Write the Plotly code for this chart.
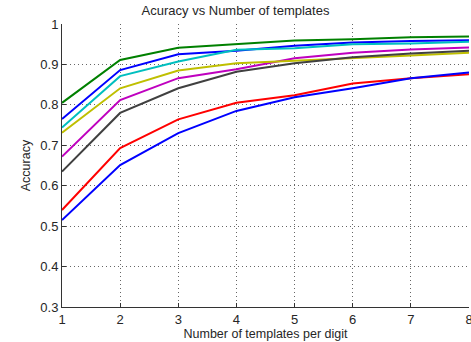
import plotly.graph_objects as go

# number of templates per digit
n_templates = [1, 2, 3, 4, 5, 6, 7, 8]

# accuracy per run (MATLAB default colour order)
acc_blue_a = [0.765, 0.886, 0.925, 0.934, 0.946, 0.954, 0.958, 0.960]
acc_green = [0.805, 0.911, 0.941, 0.950, 0.959, 0.962, 0.967, 0.969]
acc_red = [0.540, 0.693, 0.764, 0.805, 0.824, 0.853, 0.866, 0.876]
acc_cyan = [0.744, 0.871, 0.907, 0.936, 0.940, 0.950, 0.952, 0.956]
acc_magenta = [0.672, 0.812, 0.866, 0.888, 0.915, 0.929, 0.937, 0.942]
acc_yellow = [0.731, 0.841, 0.885, 0.903, 0.909, 0.915, 0.922, 0.929]
acc_gray = [0.635, 0.780, 0.841, 0.882, 0.903, 0.918, 0.927, 0.934]
acc_blue_b = [0.515, 0.651, 0.730, 0.785, 0.819, 0.841, 0.866, 0.880]

series = [
    (acc_blue_a, "#0000ff"),
    (acc_green, "#008000"),
    (acc_red, "#ff0000"),
    (acc_cyan, "#00bfbf"),
    (acc_magenta, "#bf00bf"),
    (acc_yellow, "#bfbf00"),
    (acc_gray, "#404040"),
    (acc_blue_b, "#0000ff"),
]

fig = go.Figure()
for ys, col in series:
    fig.add_trace(go.Scatter(x=n_templates, y=ys, mode="lines",
                             line=dict(color=col, width=2), showlegend=False))

txt = "#262626"
font = dict(family="Liberation Sans, Arial", size=13, color=txt)
fig.update_layout(
    width=471, height=342,
    margin=dict(l=62, r=2, t=24, b=35, autoexpand=False),
    paper_bgcolor="white", plot_bgcolor="white",
    font=font,
    title=dict(text="Acuracy vs Number of templates", x=0.5, xanchor="center",
               y=1 - 10 / 342, yanchor="middle", font=dict(size=13, color=txt)),
)
fig.update_xaxes(
    range=[1, 8], tickvals=n_templates, ticklabeloverflow="allow",
    showgrid=True, gridcolor="#666666", griddash="1px,3px", gridwidth=1,
    showline=True, linecolor="#333333", linewidth=1,
    ticks="inside", ticklen=4, tickcolor="#333333",
    zeroline=False, automargin=False,
    title=dict(text="Number of templates per digit", standoff=1, font=dict(size=12.5)),
)
fig.update_yaxes(
    range=[0.3, 1.0], tickvals=[0.3, 0.4, 0.5, 0.6, 0.7, 0.8, 0.9, 1.0],
    ticktext=["0.3", "0.4", "0.5", "0.6", "0.7", "0.8", "0.9", "1"],
    showgrid=True, gridcolor="#666666", griddash="1px,3px", gridwidth=1,
    showline=True, linecolor="#333333", linewidth=1,
    ticks="inside", ticklen=4, tickcolor="#333333",
    zeroline=False, automargin=False,
    title=dict(text="Accuracy", standoff=6, font=dict(size=12.5)),
)

fig.write_html("out.html", config={"displayModeBar": False},
               post_script="document.body.style.margin='0';")
